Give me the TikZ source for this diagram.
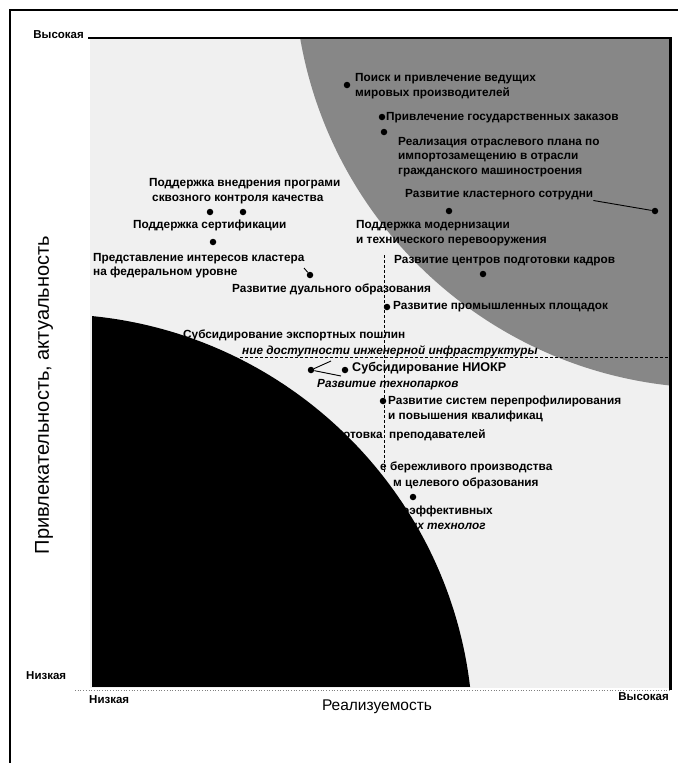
\documentclass[tikz,border=0pt]{standalone}
\usepackage{fontspec}
\setmainfont{Liberation Sans}
\newcommand\lbf{\fontsize{11.8}{14.5}\selectfont\bfseries}
\newcommand\tkf{\fontsize{11.5}{13}\selectfont\bfseries}
\begin{document}
\begin{tikzpicture}[x=1pt,y=-1pt,
  dot/.style={circle, fill=black, inner sep=0pt, minimum size=6.5pt},
  lbl/.style={font=\lbf, inner sep=0pt, anchor=west, align=left},
  tick/.style={font=\tkf, inner sep=0pt},
  conn/.style={line width=0.9pt},
  quad/.style={line width=0.7pt, dash pattern=on 3pt off 2pt},
  frame/.style={line width=1.2pt},
  lightzone/.style={fill=black!6},
  darkzone/.style={fill=black!47}]
\useasboundingbox (0,0) rectangle (678,763);
\fill[white] (0,0) rectangle (678,763);
% outer frame
\draw[frame] (10,763) -- (10,10) -- (678,10);
% zones
\fill[lightzone] (90,38) rectangle (670,688);
\begin{scope}
  \clip (90,38) rectangle (670,688);
  \fill[darkzone] (716,-34) circle[radius=422pt];
\end{scope}
% quadrant lines
\draw[quad] (240,357) -- (670,357);
\draw[quad] (384,255) -- (384,472);
% upper right labels
\node[dot] (d1) at (347,85) {};
\node[lbl] (l1) at (355,86) {Поиск и привлечение ведущих\\мировых производителей};
\node[dot] (d2) at (382,117) {};
\node[lbl] (l2) at (386,118) {Привлечение государственных заказов};
\node[dot] (d3) at (384,132) {};
\node[lbl] (l3) at (398,157) {Реализация отраслевого плана по\\импортозамещению в отрасли\\гражданского машиностроения};
\node[lbl] (l4) at (405,195) {Развитие кластерного сотрудни};
\node[dot] (d4) at (655,211) {};
\draw[conn] (l4.south east) -- (d4);
\node[dot] (d5) at (449,211) {};
\node[lbl] (l5) at (356,233) {Поддержка модернизации\\и технического перевооружения};
\node[lbl] (l6) at (394,261) {Развитие центров подготовки кадров};
\node[dot] (d6) at (483,274) {};
\node[dot] (d11) at (387,307) {};
\node[lbl] (l11) at (393,307) {Развитие промышленных площадок};
% upper left labels
\node[lbl] (l7) at (149,191) {Поддержка внедрения програми\\\hspace*{3pt}сквозного контроля качества};
\node[dot] (d7) at (210,212) {};
\node[dot] (d8) at (243,212) {};
\node[lbl] (l9) at (133,225) {Поддержка сертификации};
\node[dot] (d9) at (213,242) {};
\node[lbl] (l10) at (93,265.5) {Представление интересов кластера\\на федеральном уровне};
\node[dot] (d10) at (310,275) {};
\coordinate (t3) at (304,268);
\draw[conn] (d10) -- (t3);
\node[lbl] (l12) at (232,289) {Развитие дуального образования};
% middle labels
\node[lbl] (l13) at (183,335) {Субсидирование экспортных пошлин};
\node[lbl, font=\lbf\itshape] (l14) at (242,351) {ние доступности инженерной инфраструктуры};
\node[dot] (d12) at (311,370) {};
\coordinate (t1) at (331,361);
\coordinate (t2) at (341,376);
\draw[conn] (d12) -- (t1);
\draw[conn] (d12) -- (t2);
\node[dot] (d13) at (345,370) {};
\node[lbl, font=\fontsize{12.6}{15}\selectfont\bfseries] (l15) at (352,368) {Субсидирование НИОКР};
\node[lbl, font=\lbf\itshape] (l16) at (317,385) {Развитие технопарков};
\node[dot] (d14) at (383,401) {};
\node[lbl] (l17) at (388,409) {Развитие систем перепрофилирования\\и повышения квалификац};
\node[lbl] (l18) at (343,435) {отовка\ \ преподавателей};
\node[lbl] (l19) at (380,467) {е бережливого производства};
\node[lbl] (l20) at (393,483) {м целевого образования};
\node[dot] (d15) at (413,497) {};
\node[lbl] (l21) at (402,511) {оэффективных};
\node[lbl, font=\lbf\itshape] (l22) at (410,526) {их технолог};
% black zone
\begin{scope}
  \clip (92,38) rectangle (670,686);
  \fill[black] (50,737) circle[radius=423pt];
\end{scope}
% plot borders
\draw[line width=2.5pt] (88,38) -- (671.5,38);
\draw[line width=3pt] (670,38) -- (670,690);
\draw[black!50, dotted, line width=0.7pt] (75,690) -- (670,690);
% axes labels
\node[tick, anchor=east] (yh) at (84,35) {Высокая};
\node[tick, anchor=west] (yl) at (26,676) {Низкая};
\node[tick, anchor=west] (xl) at (89,700) {Низкая};
\node[tick, anchor=east] (xh) at (669,697) {Высокая};
\node[font=\fontsize{15.5}{17}\selectfont, inner sep=0pt] (xt) at (377,707) {Реализуемость};
\node[font=\fontsize{20}{22}\selectfont, inner sep=0pt, rotate=90] (yt) at (44,395) {Привлекательность, актуальность};
\end{tikzpicture}
\end{document}
